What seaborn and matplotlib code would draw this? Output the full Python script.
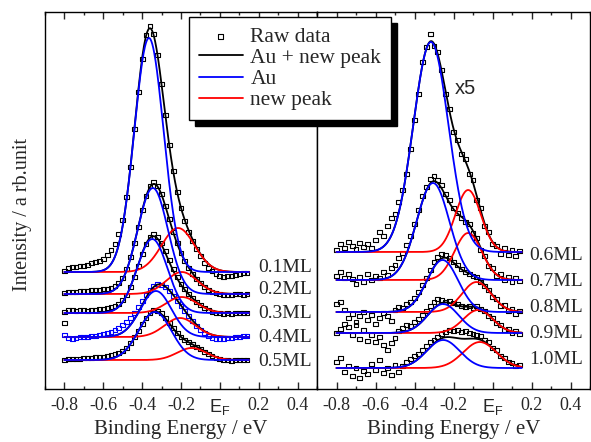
import numpy as np
import matplotlib
matplotlib.use('Agg')
import matplotlib.pyplot as plt
from matplotlib.ticker import MultipleLocator
import seaborn as sns

# energy grid of the raw spectra (eV)
energy = np.round(np.arange(-0.80, 0.141, 0.02), 2)

# ---- left panel: 0.1 - 0.5 ML ----
layers_left = ['0.1ML', '0.2ML', '0.3ML', '0.4ML', '0.5ML']
base_left = [117, 95, 76, 52, 29]
au_pos_left = [-0.365, -0.345, -0.348, -0.329, -0.334]
au_amp_left = [234, 106, 74, 46, 48]
au_wid_left = [0.075, 0.078, 0.078, 0.080, 0.085]
new_pos_left = [-0.215, -0.196, -0.196, -0.205, -0.145]
new_amp_left = [44, 22, 16, 19, 12]
new_wid_left = [0.085, 0.080, 0.080, 0.080, 0.075]

raw_01 = [1, 4, 5, 5, 6, 6, 7, 9, 10, 11, 13, 17, 22, 28, 38, 52, 75, 105, 143, 180,
          213, 237, 246, 238, 217, 188, 157, 127, 101, 80, 64, 51, 40, 31, 23, 16, 9, 4, 1, -2,
          -4, -5, -4, -4, -3, -2, -1, -1]
raw_02 = [1, 2, 2, 2, 3, 3, 3, 4, 4, 4, 5, 5, 6, 8, 11, 16, 25, 37, 51, 67,
          84, 98, 108, 112, 108, 100, 88, 75, 62, 51, 41, 33, 26, 20, 15, 11, 7, 4, 2, 1,
          0, -1, -1, -1, 0, 0, -1, 0]
raw_03 = [1, 3, 3, 2, 3, 3, 2, 3, 3, 4, 4, 5, 6, 7, 9, 13, 18, 26, 36, 47,
          59, 69, 76, 79, 76, 70, 62, 53, 44, 36, 29, 24, 19, 15, 11, 8, 5, 3, 1, 0,
          0, -1, 0, -1, 0, 0, 0, 0]
raw_04 = [2, -1, -2, -1, 0, 0, 0, 1, 1, 2, 3, 4, 5, 7, 9, 12, 15, 19, 24, 30,
          36, 42, 47, 51, 53, 52, 50, 46, 41, 36, 31, 26, 21, 16, 11, 7, 4, 1, -1, -2,
          -2, -2, -1, -1, 0, 0, 1, 1]
raw_05 = [0, 1, 1, 1, 1, 2, 2, 2, 3, 3, 3, 4, 5, 6, 7, 9, 12, 17, 23, 29,
          36, 42, 47, 50, 49, 47, 42, 37, 32, 27, 23, 20, 18, 16, 13, 11, 8, 6, 4, 2,
          1, 0, 0, -1, 0, 0, 0, 0]
raw_left = [raw_01, raw_02, raw_03, raw_04, raw_05]
raw_color_left = ['k', 'k', 'k', 'b', 'k']
stray_x = [-0.80]
stray_y = [66]

# ---- right panel: 0.6 - 1.0 ML (x5) ----
layers_right = ['0.6ML', '0.7ML', '0.8ML', '0.9ML', '1.0ML']
base_right = [137, 109, 77, 56, 21]
au_pos_right = [-0.316, -0.305, -0.256, -0.253, -0.253]
au_amp_right = [210, 97, 52, 29, 28]
au_wid_right = [0.090, 0.084, 0.080, 0.080, 0.085]
new_pos_right = [-0.125, -0.125, -0.082, -0.074, -0.065]
new_amp_right = [62, 47, 30, 23, 26]
new_wid_right = [0.065, 0.070, 0.075, 0.075, 0.085]

raw_06 = [2, 8, 4, 10, 6, 3, 9, 5, 8, 4, 12, 20, 16, 26, 34, 38, 50, 62, 78, 103,
          132, 158, 190, 205, 218, 206, 200, 182, 158, 143, 120, 112, 98, 93, 78, 72, 52, 44, 26, 20,
          8, 6, -2, 4, -3, 2, -4, 1]
raw_07 = [4, 8, 2, 6, 1, -4, 3, -2, 6, 0, 4, 2, 8, 5, 12, 15, 22, 27, 35, 44,
          56, 70, 84, 93, 101, 104, 100, 95, 86, 80, 72, 67, 62, 58, 56, 47, 42, 30, 24, 14,
          12, 4, 6, 0, 3, -2, 2, -1]
raw_08 = [8, 10, 2, -6, -2, -10, -4, 0, -8, -3, -12, -6, -1, -4, -9, 2, 5, 4, 8, 10,
          14, 20, 27, 34, 42, 50, 55, 58, 57, 54, 50, 47, 43, 40, 38, 36, 35, 30, 26, 22,
          15, 13, 6, 7, 1, 3, -2, 1]
raw_09 = [0, 4, 9, 6, -2, 8, -6, 3, -8, -2, -9, -4, -12, -17, -10, -5, 2, 5, 8, 7,
          11, 14, 18, 22, 27, 31, 34, 33, 31, 32, 30, 29, 27, 26, 27, 25, 27, 24, 22, 17,
          15, 10, 8, 3, 4, 0, 2, -1]
raw_10 = [6, 10, -4, 2, -8, 0, -10, -3, -6, 4, -2, 8, -5, 0, -7, 3, -4, 2, 6, 9,
          12, 14, 18, 22, 26, 28, 31, 34, 36, 38, 37, 38, 36, 37, 35, 34, 33, 32, 28, 26,
          20, 18, 12, 10, 6, 5, 2, 3]
raw_right = [raw_06, raw_07, raw_08, raw_09, raw_10]
raw_color_right = ['k', 'k', 'k', 'k', 'k']

ticks = [-0.8, -0.6, -0.4, -0.2, 0.0, 0.2, 0.4]
tick_labels = ['-0.8', '-0.6', '-0.4', '-0.2', 'E$_\\mathregular{F}$', '0.2', '0.4']

sns.set_style('ticks')
plt.rcParams['font.family'] = ['Liberation Serif', 'DejaVu Serif']
plt.rcParams['mathtext.fontset'] = 'custom'
plt.rcParams['mathtext.rm'] = 'Liberation Sans'


def gauss(x, c, a, w):
    return a * np.exp(-(x - c) ** 2 / (2 * w ** 2))


fig = plt.figure(figsize=(5.91, 4.42), dpi=100)
ax_l = fig.add_axes([45 / 591, 53 / 442, 272 / 591, 377 / 442])
ax_r = fig.add_axes([317 / 591, 53 / 442, 273 / 591, 377 / 442])
fx = np.linspace(-0.8, 0.15, 400)


def draw_panel(ax, layers, base, raws, cols, aup, aua, auw, nwp, nwa, nww, label_y, label_x, first):
    for i in range(len(layers)):
        au = gauss(fx, aup[i], aua[i], auw[i])
        nw = gauss(fx, nwp[i], nwa[i], nww[i])
        lab = first and i == 0
        sns.scatterplot(x=energy, y=base[i] + np.array(raws[i]), ax=ax, marker='s', s=12,
                        facecolor='none', edgecolor=cols[i], linewidth=0.8, legend=False,
                        zorder=2, label='Raw data' if lab else None)
        sns.lineplot(x=fx, y=base[i] + au + nw, ax=ax, color='k', lw=1.3, legend=False,
                     estimator=None, zorder=3, label='Au + new peak' if lab else None)
        sns.lineplot(x=fx, y=base[i] + nw, ax=ax, color='#ff0000', lw=1.3, legend=False,
                     estimator=None, zorder=4, label='new peak' if lab else None)
        sns.lineplot(x=fx, y=base[i] + au, ax=ax, color='#0000ff', lw=1.3, legend=False,
                     estimator=None, zorder=5, label='Au' if lab else None)
        ax.text(label_x, label_y[i], layers[i], fontsize=14, ha='left', va='center')


draw_panel(ax_l, layers_left, base_left, raw_left, raw_color_left, au_pos_left, au_amp_left,
           au_wid_left, new_pos_left, new_amp_left, new_wid_left, [122, 100, 76, 52, 27], 0.2, True)
sns.scatterplot(x=stray_x, y=stray_y, ax=ax_l, marker='s', s=12, facecolor='none',
                edgecolor='k', linewidth=0.8, legend=False, zorder=2)
draw_panel(ax_r, layers_right, base_right, raw_right, raw_color_right, au_pos_right, au_amp_right,
           au_wid_right, new_pos_right, new_amp_right, new_wid_right, [134, 107, 82, 56, 30], 0.186, False)
ax_r.text(-0.137, 301, 'x5', family='Liberation Sans', fontsize=14.5, ha='center', va='center')

for ax in (ax_l, ax_r):
    ax.set_xlim(-0.9, 0.5)
    ax.set_ylim(0, 377)
    ax.set_yticks([])
    ax.set_xticks(ticks)
    ax.set_xticklabels(tick_labels)
    ax.xaxis.set_minor_locator(MultipleLocator(0.1))
    ax.tick_params(axis='x', which='both', direction='in', top=True, labelsize=13, pad=6, width=1)
    ax.tick_params(axis='x', which='major', length=5)
    ax.tick_params(axis='x', which='minor', length=2.5)
    ef = ax.get_xticklabels()[4]
    ef.set_fontfamily('Liberation Sans')
    for s in ax.spines.values():
        s.set_linewidth(1.0)
        s.set_color('k')
    ax.set_xlabel('Binding Energy / eV', fontsize=15, labelpad=2)
    ax.set_ylabel('')

ax_l.set_ylabel('Intensity / a rb.unit', fontsize=14.5)
ax_l.yaxis.set_label_coords(-0.048, 0.464)

handles, labels = ax_l.get_legend_handles_labels()
hmap = dict(zip(labels, handles))
order = ['Raw data', 'Au + new peak', 'Au', 'new peak']
leg = fig.legend([hmap[k] for k in order], order, loc='upper left',
                 bbox_to_anchor=(189 / 591, 1 - 17 / 442), bbox_transform=fig.transFigure,
                 borderaxespad=0, fontsize=15.5, frameon=True, fancybox=False, edgecolor='k',
                 framealpha=1, shadow={'ox': 4.5, 'oy': -4.5, 'color': 'k', 'alpha': 1},
                 handlelength=2.05, handletextpad=0.35, labelspacing=0.05, borderpad=0.45,
                 scatterpoints=1)
leg.get_frame().set_linewidth(1.0)

fig.savefig('out.png', dpi=100)
